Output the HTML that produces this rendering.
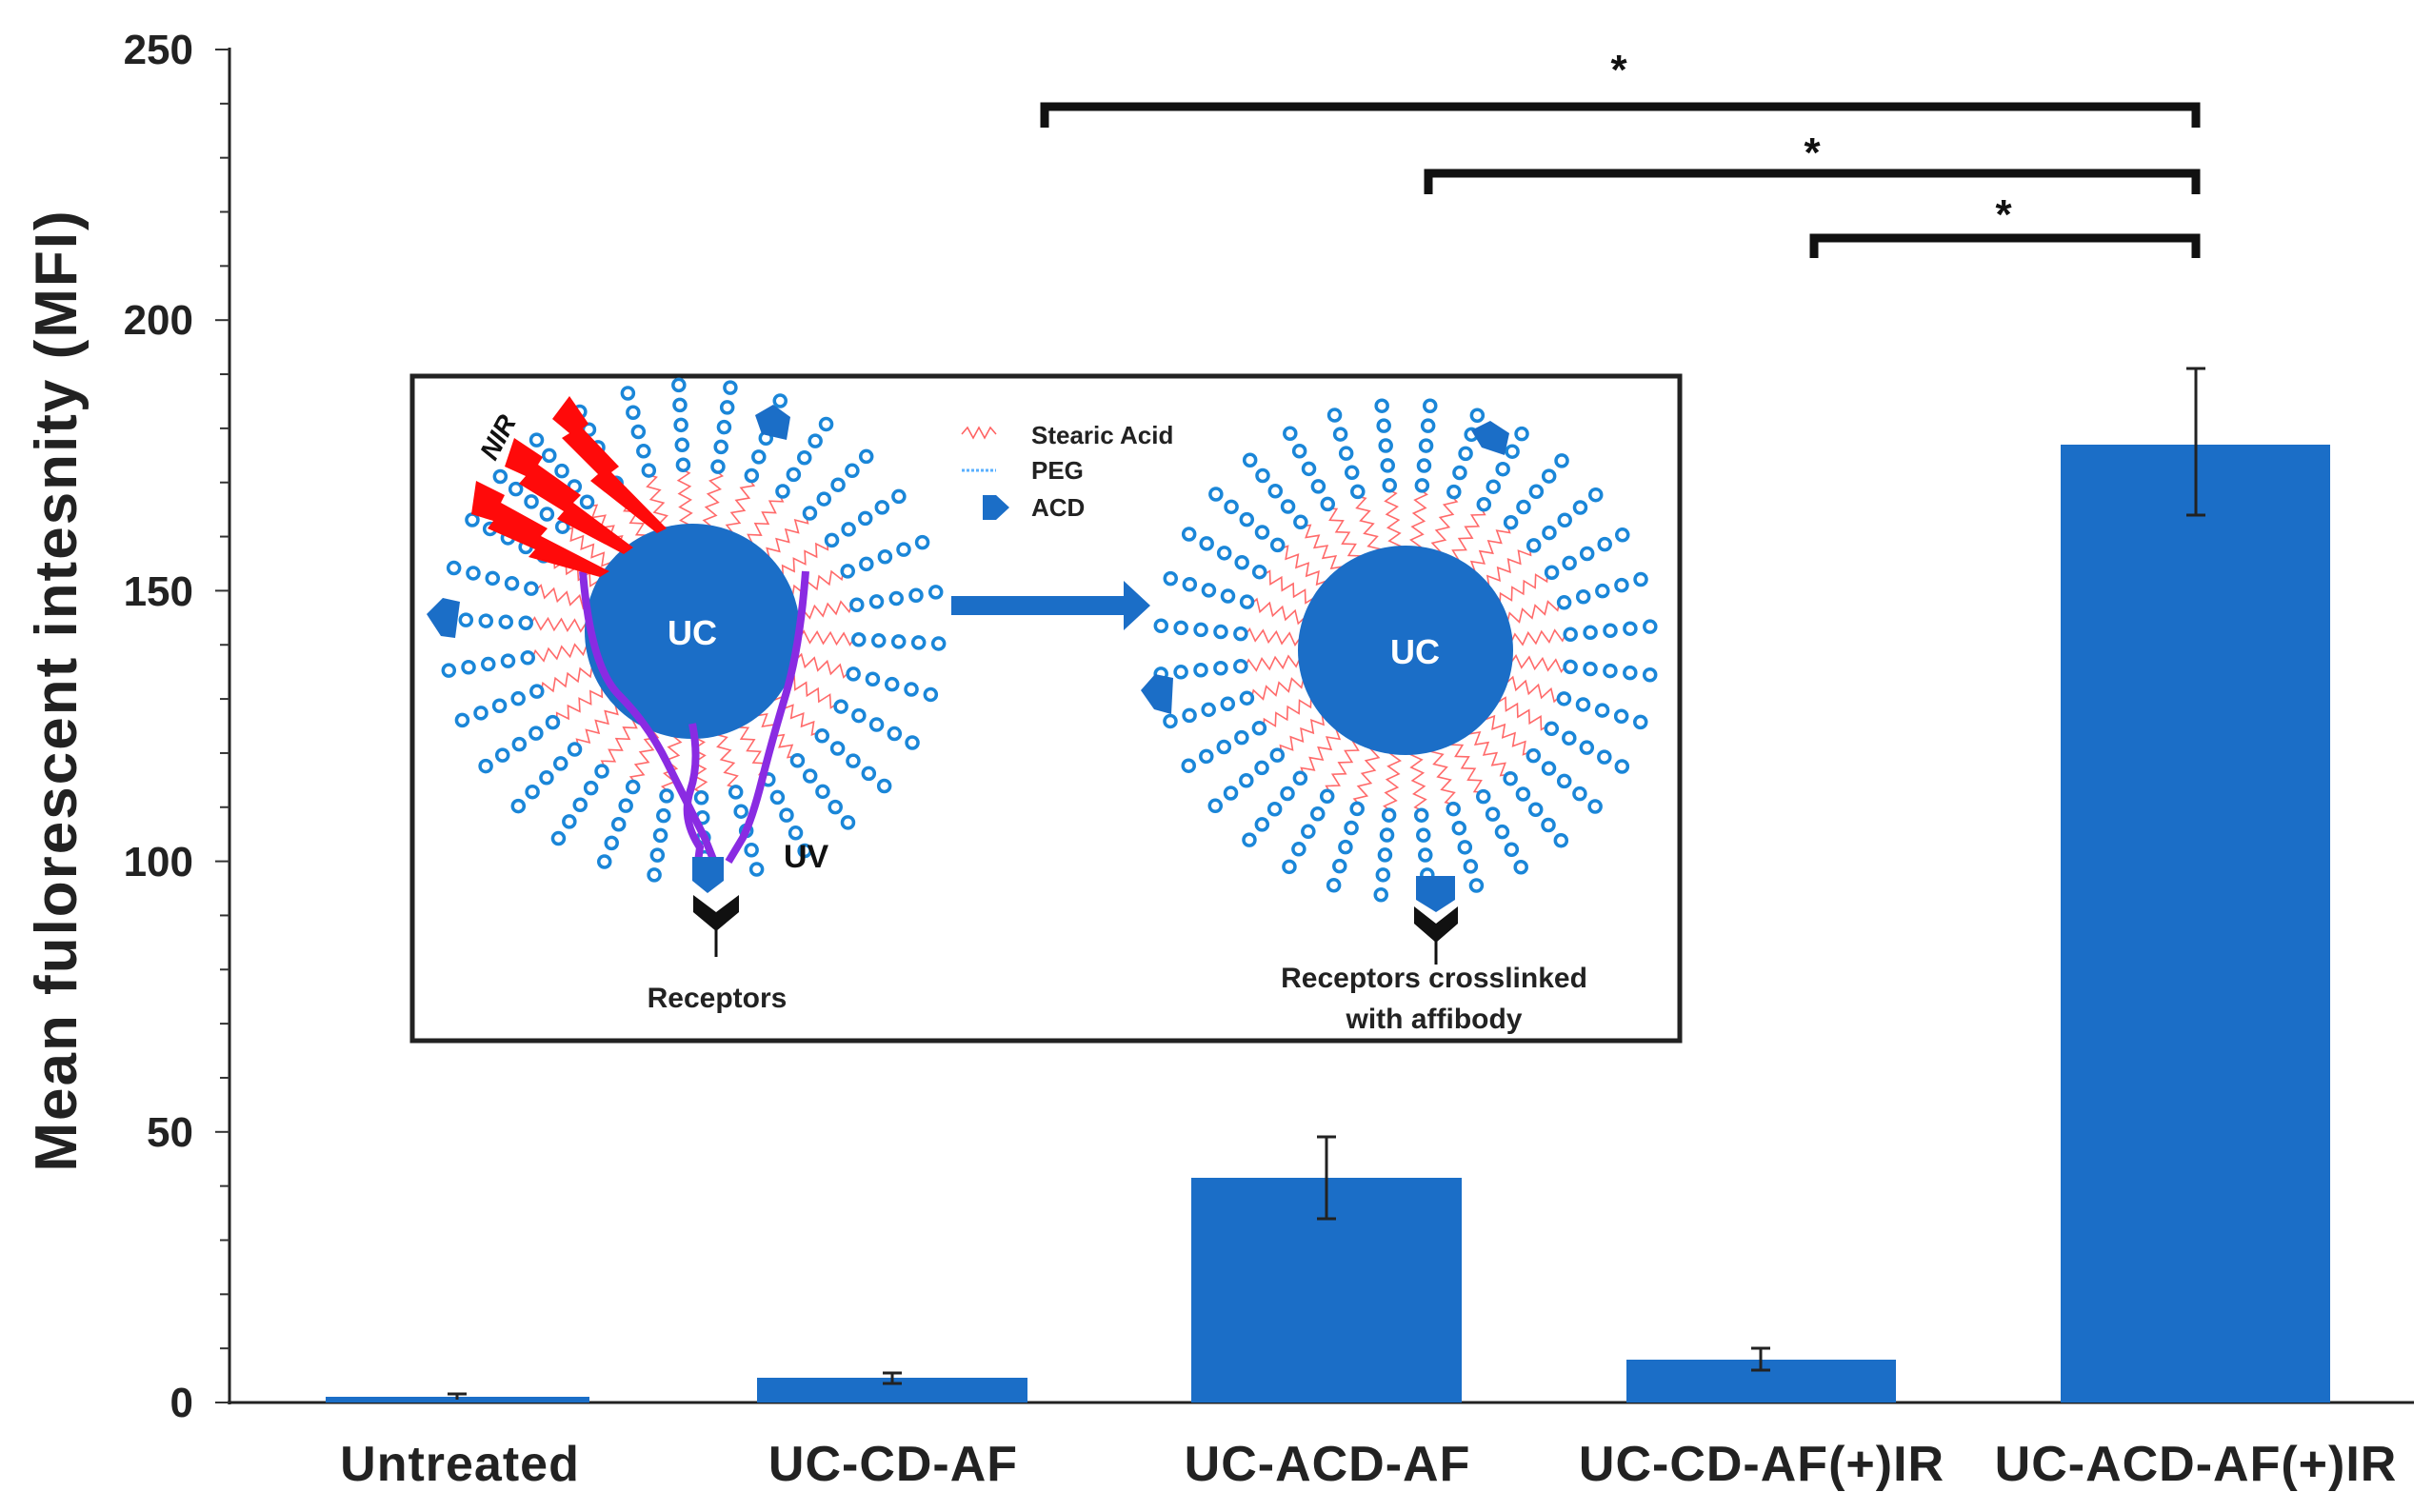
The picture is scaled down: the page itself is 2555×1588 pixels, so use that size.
<!DOCTYPE html>
<html><head><meta charset="utf-8"><style>
html,body{margin:0;padding:0;background:#fff;}
svg{display:block;}
text{font-family:"Liberation Sans",Arial,sans-serif;font-weight:bold;}
</style></head><body>
<svg id="s" width="2555" height="1588" viewBox="0 0 2555 1588" xmlns="http://www.w3.org/2000/svg">
<rect width="2555" height="1588" fill="#fff"/>
<line x1="241" y1="50" x2="241" y2="1475" stroke="#222" stroke-width="3"/>
<line x1="239" y1="1473" x2="2535" y2="1473" stroke="#222" stroke-width="3"/>
<g id="ticks" stroke="#333" stroke-width="2"></g>
<g font-size="44" fill="#222" text-anchor="end">
<text x="203" y="67">250</text>
<text x="203" y="351">200</text>
<text x="203" y="636">150</text>
<text x="203" y="920">100</text>
<text x="203" y="1204">50</text>
<text x="203" y="1488">0</text>
</g>
<text transform="translate(80,725) rotate(-90)" font-size="62" fill="#222" text-anchor="middle" letter-spacing="2">Mean fulorescent  intesnity (MFI)</text>
<g fill="#1b6ec7">
<rect x="342" y="1467" width="277" height="6"/>
<rect x="795" y="1447" width="284" height="26"/>
<rect x="1251" y="1237" width="284" height="236"/>
<rect x="1708" y="1428" width="283" height="45"/>
<rect x="2164" y="467" width="283" height="1006"/>
</g>
<g stroke="#222" stroke-width="3">
<line x1="480" y1="1464" x2="480" y2="1470"/><line x1="470" y1="1464" x2="490" y2="1464"/>
<line x1="937" y1="1442" x2="937" y2="1453"/><line x1="927" y1="1442" x2="947" y2="1442"/><line x1="927" y1="1453" x2="947" y2="1453"/>
<line x1="1393" y1="1194" x2="1393" y2="1280"/><line x1="1383" y1="1194" x2="1403" y2="1194"/><line x1="1383" y1="1280" x2="1403" y2="1280"/>
<line x1="1849" y1="1416" x2="1849" y2="1439"/><line x1="1839" y1="1416" x2="1859" y2="1416"/><line x1="1839" y1="1439" x2="1859" y2="1439"/>
<line x1="2306" y1="387" x2="2306" y2="541"/><line x1="2296" y1="387" x2="2316" y2="387"/><line x1="2296" y1="541" x2="2316" y2="541"/>
</g>
<g stroke="#111" stroke-width="9" fill="none">
<path d="M1097,134 V112 H2306 V134"/>
<path d="M1500,204 V182 H2306 V204"/>
<path d="M1905,271 V250 H2306 V271"/>
</g>
<g font-size="44" fill="#111" text-anchor="middle">
<text x="1700" y="88">*</text>
<text x="1903" y="175">*</text>
<text x="2104" y="240">*</text>
</g>
<g font-size="52" fill="#222" text-anchor="middle" letter-spacing="1">
<text x="483" y="1555">Untreated</text>
<text x="938" y="1555">UC-CD-AF</text>
<text x="1394" y="1555">UC-ACD-AF</text>
<text x="1850" y="1555">UC-CD-AF(+)IR</text>
<text x="2306" y="1555">UC-ACD-AF(+)IR</text>
</g>
<rect x="433" y="395" width="1331" height="698" fill="#fff" stroke="#222" stroke-width="5"/>
<g id="p1"></g><g id="p2"></g>
<circle cx="727" cy="663" r="113" fill="#1b6ec7"/>
<ellipse cx="1476" cy="683" rx="113" ry="110" fill="#1b6ec7"/>
<text x="727" y="677" font-size="36" fill="#fff" text-anchor="middle">UC</text>
<text x="1486" y="697" font-size="36" fill="#fff" text-anchor="middle">UC</text>
<g stroke="#8a2be2" stroke-width="8" fill="none">
<path d="M612,600 Q620,700 650,730 T700,800 T740,880 L750,905"/>
<path d="M846,600 Q840,680 825,730 T800,820 T780,880 L765,905"/>
<path d="M727,760 Q735,800 725,830 T735,890 L733,905"/>
</g>
<g fill="#ff0a0a">
<polygon points="598,416 618,445 612,450 650,490 642,496 700,555 690,560 620,505 628,498 590,460 598,455 580,440"/>
<polygon points="540,460 570,480 565,488 610,520 602,528 665,575 655,582 585,545 592,537 545,508 552,500 530,490"/>
<polygon points="500,505 530,520 526,528 575,555 568,563 640,600 630,606 555,585 562,577 512,555 518,547 495,540"/>
</g>
<text transform="translate(520,485) rotate(-62)" font-size="28" fill="#111" font-style="italic">NIR</text>
<g fill="#1b6ec7">
<polygon points="793,436 812,425 830,438 826,462 800,456"/>
<polygon points="448,645 465,628 483,632 478,670 463,668"/>
<polygon points="727,900 760,900 760,925 743,938 727,925"/>
<polygon points="1545,452 1565,442 1585,455 1580,478 1556,470"/>
<polygon points="1198,725 1213,708 1232,712 1230,750 1212,745"/>
<polygon points="1487,920 1528,920 1528,945 1508,958 1487,945"/>
<polygon points="1032,520 1046,520 1060,533 1046,546 1032,546"/>
</g>
<polygon points="999,626 1180,626 1180,610 1208,636 1180,662 1180,646 999,646" fill="#1b6ec7"/>
<polyline points="1010,456 1016,449 1022,460 1028,449 1034,460 1040,449 1046,456" stroke="#ff6060" stroke-width="1.5" fill="none"/>
<path d="M1010,494 h36" stroke="#5ab0ff" stroke-width="3" stroke-dasharray="3,2"/>
<g font-size="26" fill="#222">
<text x="1083" y="466">Stearic Acid</text>
<text x="1083" y="503">PEG</text>
<text x="1083" y="542">ACD</text>
</g>
<g fill="#111">
<polygon points="728,940 752,958 776,940 776,958 752,978 728,958"/>
<polygon points="1485,952 1508,970 1531,952 1531,970 1508,990 1485,970"/>
</g>
<line x1="752" y1="975" x2="752" y2="1005" stroke="#111" stroke-width="3"/>
<line x1="1508" y1="985" x2="1508" y2="1013" stroke="#111" stroke-width="3"/>
<text x="823" y="911" font-size="34" fill="#111" font-weight="normal">UV</text>
<g font-size="30" fill="#222" text-anchor="middle">
<text x="753" y="1058">Receptors</text>
<text x="1506" y="1037">Receptors crosslinked</text>
<text x="1506" y="1080">with affibody</text>
</g>
</svg>
<script>
var NS="http://www.w3.org/2000/svg";
var tk=document.getElementById("ticks");
for(var v=0;v<=250;v+=10){var y=1473-v*5.684;var l=document.createElementNS(NS,"line");
l.setAttribute("x1",v%50==0?226:231);l.setAttribute("x2",241);l.setAttribute("y1",y);l.setAttribute("y2",y);tk.appendChild(l);}
function part(g,cx,cy,R,n,off){
 var gg=document.getElementById(g);
 for(var i=0;i<n;i++){
  var a=off+i*2*Math.PI/n, c=Math.cos(a), s=Math.sin(a);
  var px=-s, py=c, pts=[];
  for(var k=0;k<=10;k++){var r=R-10+k*7;var d=(k%2?6:-6);pts.push((cx+c*r+px*d).toFixed(1)+","+(cy+s*r+py*d).toFixed(1));}
  var pl=document.createElementNS(NS,"polyline");pl.setAttribute("points",pts.join(" "));
  pl.setAttribute("stroke","#ff6a6a");pl.setAttribute("stroke-width","1.6");pl.setAttribute("fill","none");gg.appendChild(pl);
  for(var k=0;k<5;k++){var r=R+62+k*21;var ci=document.createElementNS(NS,"circle");
   ci.setAttribute("cx",cx+c*r);ci.setAttribute("cy",cy+s*r);ci.setAttribute("r",6);
   ci.setAttribute("fill","none");ci.setAttribute("stroke","#1a86d8");ci.setAttribute("stroke-width","3.5");gg.appendChild(ci);}
 }
}
part("p1",727,663,113,30,0.05);
part("p2",1476,683,112,32,0.1);
</script>
</body></html>
